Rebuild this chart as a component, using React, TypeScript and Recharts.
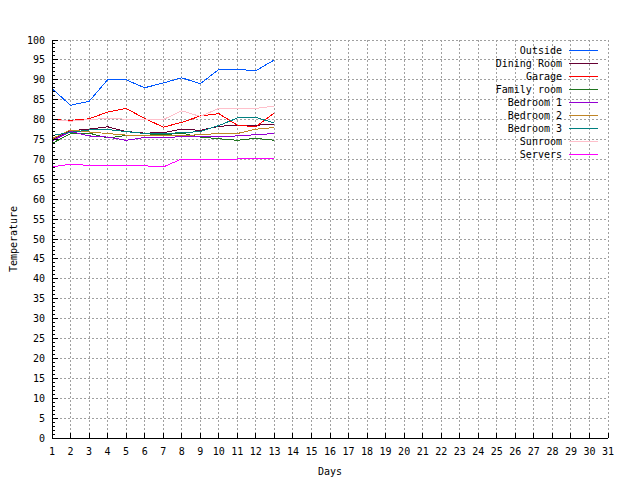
import React from 'react';
import { LineChart, Line, XAxis, YAxis, CartesianGrid, Legend } from 'recharts';

const FONT = '"DejaVu Sans Mono", "Liberation Mono", monospace';

// readings per day (only 13 days recorded so far)
const days = [1, 2, 3, 4, 5, 6, 7, 8, 9, 10, 11, 12, 13];
const outside = [87.8, 83.6, 84.6, 90, 90, 88, 89.2, 90.5, 89, 92.6, 92.6, 92.3, 95];
const diningRoom = [74.9, 77.2, 77.6, 78.2, 77.0, 76.6, 76.7, 77.6, 77.3, 78.3, 78.6, 78.6, 78.8];
const garage = [80, 79.8, 80.2, 81.9, 82.8, 80.3, 78.1, 79.3, 80.9, 81.5, 78.6, 78.2, 81.7];
const familyRoom = [74.0, 76.5, 76.6, 75.4, 76.0, 76.1, 76.2, 76.6, 75.6, 75.2, 74.8, 75.3, 74.8];
const bedroom1 = [74.7, 77.0, 75.9, 75.6, 74.8, 75.5, 75.5, 75.7, 75.7, 75.7, 75.9, 76.2, 76.5];
const bedroom2 = [75.2, 77.4, 76.9, 76.5, 76.1, 75.9, 75.9, 76.0, 76.2, 76.5, 76.5, 77.6, 78.0];
const bedroom3 = [76.0, 76.8, 77.4, 77.5, 77.0, 76.5, 76.5, 76.7, 77.0, 78.5, 80.4, 80.6, 79.1];
const sunroom = [80.0, 79.6, 80.0, 80.3, 80.1, 80.0, 80.0, 82.2, 80.8, 82.8, 82.8, 82.8, 83.4];
const servers = [68.1, 68.8, 68.5, 68.5, 68.4, 68.4, 68.1, 70.1, 70.1, 70.1, 70.1, 70.3, 70.3];

// axis ticks
const xTicks = Array.from({ length: 31 }, (_, i) => i + 1);
const yTicks = Array.from({ length: 101 }, (_, i) => i);
const yGrid = Array.from({ length: 21 }, (_, i) => i * 5);

const series = [
  { key: 'outside', name: 'Outside', color: '#0058ff', values: outside },
  { key: 'diningRoom', name: 'Dining Room', color: '#660033', values: diningRoom },
  { key: 'garage', name: 'Garage', color: '#ff0000', values: garage },
  { key: 'familyRoom', name: 'Family room', color: '#207520', values: familyRoom },
  { key: 'bedroom1', name: 'Bedroom 1', color: '#9400d3', values: bedroom1 },
  { key: 'bedroom2', name: 'Bedroom 2', color: '#c08526', values: bedroom2 },
  { key: 'bedroom3', name: 'Bedroom 3', color: '#008080', values: bedroom3 },
  { key: 'sunroom', name: 'Sunroom', color: '#ffc0cb', values: sunroom },
  { key: 'servers', name: 'Servers', color: '#ff00ff', values: servers },
];

const data = days.map((day, i) => {
  const row: { [k: string]: number } = { day };
  series.forEach(s => { row[s.key] = s.values[i]; });
  return row;
});

const BottomTick = (props: any) => {
  const { x, y, payload } = props;
  return (
    <g>
      <line x1={x} x2={x} y1={y} y2={y - 5} stroke="#000" shapeRendering="crispEdges" />
      <text x={x} y={y + 17} textAnchor="middle" fontFamily={FONT} fontSize={10} fill="#000">
        {payload.value}
      </text>
    </g>
  );
};

const TopTick = (props: any) => {
  const { x, y } = props;
  return <line x1={x} x2={x} y1={y} y2={y + 5} stroke="#000" shapeRendering="crispEdges" />;
};

const LeftTick = (props: any) => {
  const { x, y, payload } = props;
  const major = payload.value % 5 === 0;
  return (
    <g>
      <line x1={x} x2={x + (major ? 6 : 3)} y1={y} y2={y} stroke="#000" shapeRendering="crispEdges" />
      {major && (
        <text x={x - 7} y={y} dy="0.35em" textAnchor="end" fontFamily={FONT} fontSize={10} fill="#000">
          {payload.value}
        </text>
      )}
    </g>
  );
};

const RightTick = (props: any) => {
  const { x, y, payload } = props;
  const major = payload.value % 5 === 0;
  return <line x1={x} x2={x - (major ? 6 : 3)} y1={y} y2={y} stroke="#000" shapeRendering="crispEdges" />;
};

// keep the plotting order (gnuplot key order), not alphabetical
const renderLegend = () => (
  <div style={{ fontFamily: FONT, fontSize: 10, color: '#000' }}>
    {series.map(s => (
      <div
        key={s.key}
        style={{ display: 'flex', alignItems: 'center', justifyContent: 'flex-end', height: 13, lineHeight: '13px', whiteSpace: 'pre' }}
      >
        <span>{s.name}</span>
        <span style={{ display: 'inline-block', width: 29, height: 0, borderTop: `1px solid ${s.color}`, marginLeft: 7 }} />
      </div>
    ))}
  </div>
);

const App = () => {
  return (
    <div style={{ position: 'absolute', left: 0, top: 0, width: 640, height: 480, background: '#fff' }}>
      <LineChart width={640} height={480} data={data} margin={{ top: 40, right: 32, bottom: 12, left: 12 }}>
        <CartesianGrid
          xAxisId="b"
          yAxisId="l"
          horizontalValues={yGrid}
          stroke="#a0a0a0"
          strokeDasharray="2 2"
          shapeRendering="crispEdges"
        />
        <XAxis
          xAxisId="b"
          dataKey="day"
          type="number"
          domain={[1, 31]}
          ticks={xTicks}
          interval={0}
          height={30}
          tickSize={0}
          tickMargin={0}
          tickLine={false}
          axisLine={{ stroke: '#000', shapeRendering: 'crispEdges' }}
          tick={BottomTick}
          allowDataOverflow
          label={{
            content: (p: any) => {
              const vb = p.viewBox || { x: 52, width: 556, y: 438 };
              return (
                <text x={vb.x + vb.width / 2} y={vb.y + 37} textAnchor="middle" fontFamily={FONT} fontSize={10} fill="#000">
                  Days
                </text>
              );
            },
          }}
        />
        <XAxis
          xAxisId="t"
          orientation="top"
          dataKey="day"
          type="number"
          domain={[1, 31]}
          ticks={xTicks}
          interval={0}
          height={0}
          tickSize={0}
          tickMargin={0}
          tickLine={false}
          axisLine={{ stroke: '#000', shapeRendering: 'crispEdges' }}
          tick={TopTick}
          allowDataOverflow
          label={{
            content: (p: any) => {
              const vb = p.viewBox || { x: 52, width: 556, y: 40 };
              return (
                <text x={vb.x + vb.width / 2} y={vb.y - 15} textAnchor="middle" fontFamily={FONT} fontSize={10} fill="#000">
                  Maximum Temperature Graph as of 08/14/2026
                </text>
              );
            },
          }}
        />
        <YAxis
          yAxisId="l"
          type="number"
          domain={[0, 100]}
          ticks={yTicks}
          interval={0}
          width={40}
          tickSize={0}
          tickMargin={0}
          tickLine={false}
          axisLine={{ stroke: '#000', shapeRendering: 'crispEdges' }}
          tick={LeftTick}
          label={{
            content: (p: any) => {
              const vb = p.viewBox || { x: 12, y: 40, height: 398 };
              const cx = vb.x + 5;
              const cy = vb.y + vb.height / 2;
              return (
                <text x={cx} y={cy} transform={`rotate(-90, ${cx}, ${cy})`} textAnchor="middle" fontFamily={FONT} fontSize={10} fill="#000">
                  Temperature
                </text>
              );
            },
          }}
        />
        <YAxis
          yAxisId="r"
          orientation="right"
          type="number"
          domain={[0, 100]}
          ticks={yTicks}
          interval={0}
          width={0}
          tickSize={0}
          tickMargin={0}
          tickLine={false}
          axisLine={{ stroke: '#000', shapeRendering: 'crispEdges' }}
          tick={RightTick}
        />
        <Legend
          layout="horizontal"
          verticalAlign="middle"
          align="center"
          content={renderLegend}
          wrapperStyle={{ top: 44, right: 42, left: 'auto', width: 'auto', height: 'auto' }}
        />
        {series.map(s => (
          <Line
            key={s.key}
            xAxisId="b"
            yAxisId="l"
            type="linear"
            dataKey={s.key}
            name={s.name}
            stroke={s.color}
            strokeWidth={1}
            shapeRendering="crispEdges"
            dot={false}
            activeDot={false}
            isAnimationActive={false}
          />
        ))}
      </LineChart>
    </div>
  );
};

export default App;
